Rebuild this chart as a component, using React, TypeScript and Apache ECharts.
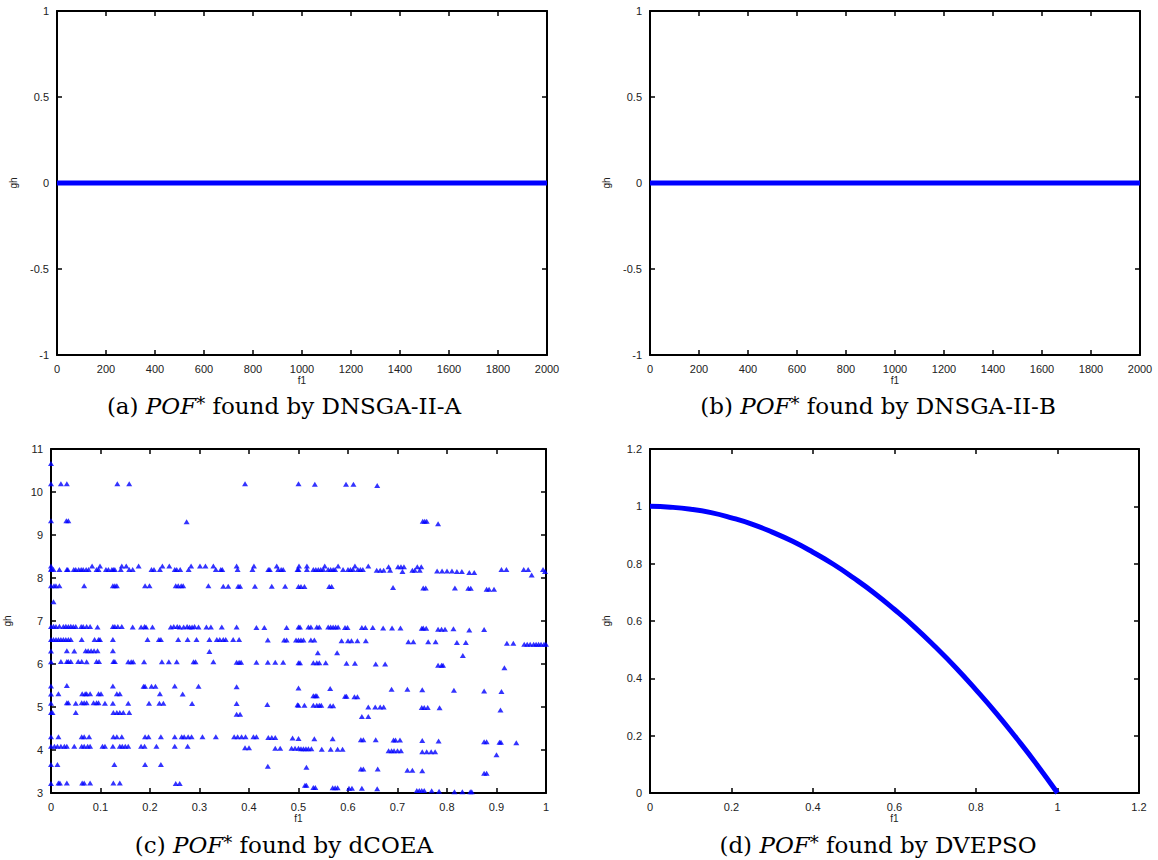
import React, { useEffect, useRef } from "react";
import * as echarts from "echarts";

// ---- Panel (a) and (b): DNSGA-II-A / DNSGA-II-B ----
const dnsgaAF1 = [0, 2000];
const dnsgaAGh = [0, 0];
const dnsgaBF1 = [0, 2000];
const dnsgaBGh = [0, 0];

// ---- Panel (d): DVEPSO ----
const dvepsoF1 = [0, 0.05, 0.1, 0.15, 0.2, 0.25, 0.3, 0.35, 0.4, 0.45, 0.5, 0.55, 0.6, 0.65, 0.7, 0.75, 0.8, 0.85, 0.9, 0.95, 1.0];
const dvepsoGh = [1.0, 0.997, 0.99, 0.978, 0.96, 0.938, 0.91, 0.878, 0.84, 0.798, 0.75, 0.698, 0.64, 0.578, 0.51, 0.438, 0.36, 0.278, 0.19, 0.098, 0.0];

// ---- Panel (c): dCOEA, [f1, gh] by band ----
const dcoeaTop = [[0,10.66],[0,10.19],[0.02,10.19],[0.032,10.19],[0.134,10.19],[0.158,10.19],[0.392,10.19],[0.5,10.19],[0.533,10.18],[0.596,10.18],[0.611,10.18],[0.659,10.15]];
const dcoea93 = [[0,9.33],[0.031,9.33],[0.035,9.33],[0.274,9.31],[0.751,9.32],[0.755,9.32],[0.759,9.32],[0.782,9.26]];
const dcoea82 = [[0,8.2],[0,8.28],[0.001,8.22],[0.005,8.2],[0.017,8.2],[0.032,8.2],[0.034,8.2],[0.046,8.2],[0.05,8.2],[0.056,8.2],[0.061,8.2],[0.065,8.2],[0.071,8.2],[0.076,8.2],[0.083,8.28],[0.092,8.2],[0.096,8.2],[0.099,8.28],[0.111,8.2],[0.116,8.2],[0.123,8.2],[0.126,8.2],[0.129,8.2],[0.141,8.2],[0.143,8.28],[0.152,8.28],[0.158,8.2],[0.165,8.2],[0.177,8.28],[0.203,8.2],[0.208,8.2],[0.22,8.2],[0.225,8.28],[0.239,8.28],[0.25,8.2],[0.254,8.2],[0.261,8.2],[0.278,8.2],[0.283,8.28],[0.301,8.28],[0.312,8.28],[0.328,8.28],[0.333,8.2],[0.343,8.2],[0.346,8.2],[0.375,8.28],[0.377,8.2],[0.407,8.2],[0.41,8.28],[0.439,8.2],[0.442,8.2],[0.456,8.28],[0.459,8.2],[0.465,8.2],[0.469,8.2],[0.498,8.2],[0.501,8.28],[0.5,8.2],[0.517,8.2],[0.517,8.28],[0.53,8.2],[0.535,8.2],[0.54,8.2],[0.545,8.2],[0.55,8.2],[0.553,8.28],[0.56,8.2],[0.565,8.2],[0.57,8.2],[0.574,8.2],[0.58,8.28],[0.59,8.2],[0.6,8.2],[0.605,8.2],[0.61,8.2],[0.614,8.28],[0.62,8.2],[0.625,8.2],[0.63,8.2],[0.641,8.28],[0.658,8.18],[0.665,8.18],[0.672,8.18],[0.682,8.26],[0.685,8.18],[0.701,8.26],[0.707,8.26],[0.713,8.26],[0.71,8.15],[0.73,8.18],[0.735,8.18],[0.74,8.26],[0.745,8.18],[0.748,8.26],[0.78,8.16],[0.79,8.16],[0.8,8.16],[0.81,8.16],[0.82,8.15],[0.83,8.15],[0.845,8.13],[0.855,8.13],[0.91,8.2],[0.92,8.2],[0.955,8.2],[0.964,8.2],[0.971,8.07],[0.994,8.2],[0.998,8.15]];
const dcoea78 = [[0,7.82],[0.006,7.82],[0.01,7.82],[0.017,7.82],[0.067,7.82],[0.125,7.82],[0.129,7.82],[0.133,7.82],[0.19,7.82],[0.199,7.82],[0.252,7.82],[0.257,7.82],[0.263,7.82],[0.267,7.82],[0.318,7.82],[0.348,7.81],[0.358,7.81],[0.378,7.81],[0.382,7.81],[0.412,7.81],[0.446,7.81],[0.473,7.81],[0.5,7.8],[0.505,7.8],[0.512,7.8],[0.562,7.8],[0.567,7.8],[0.691,7.78],[0.752,7.77],[0.757,7.77],[0.816,7.77],[0.843,7.76],[0.848,7.76],[0.88,7.74],[0.885,7.74],[0.895,7.74],[0.005,7.45]];
const dcoea687 = [[0,6.87],[0.005,6.88],[0.01,6.87],[0.017,6.88],[0.025,6.87],[0.03,6.88],[0.035,6.87],[0.04,6.88],[0.045,6.87],[0.05,6.87],[0.061,6.87],[0.065,6.87],[0.072,6.87],[0.079,6.87],[0.094,6.86],[0.125,6.87],[0.129,6.87],[0.135,6.87],[0.143,6.87],[0.165,6.86],[0.182,6.86],[0.189,6.87],[0.192,6.86],[0.205,6.86],[0.242,6.86],[0.248,6.87],[0.255,6.87],[0.26,6.86],[0.268,6.86],[0.275,6.87],[0.28,6.86],[0.285,6.86],[0.29,6.87],[0.298,6.86],[0.314,6.86],[0.323,6.86],[0.345,6.86],[0.375,6.86],[0.415,6.85],[0.431,6.85],[0.476,6.85],[0.5,6.86],[0.503,6.86],[0.52,6.86],[0.525,6.86],[0.537,6.86],[0.542,6.86],[0.56,6.86],[0.565,6.86],[0.57,6.86],[0.575,6.86],[0.58,6.86],[0.594,6.85],[0.599,6.85],[0.628,6.85],[0.635,6.85],[0.65,6.85],[0.671,6.84],[0.689,6.84],[0.706,6.84],[0.749,6.83],[0.752,6.84],[0.758,6.83],[0.782,6.81],[0.789,6.81],[0.796,6.81],[0.813,6.82],[0.845,6.79],[0.875,6.8]];
const dcoea657 = [[0,6.57],[0.005,6.57],[0.01,6.57],[0.015,6.57],[0.02,6.57],[0.025,6.57],[0.03,6.57],[0.035,6.57],[0.04,6.57],[0.062,6.57],[0.088,6.57],[0.096,6.57],[0.099,6.57],[0.125,6.57],[0.195,6.57],[0.218,6.57],[0.222,6.57],[0.257,6.57],[0.276,6.57],[0.294,6.57],[0.32,6.57],[0.335,6.57],[0.341,6.57],[0.348,6.57],[0.353,6.57],[0.368,6.57],[0.38,6.57],[0.438,6.56],[0.471,6.56],[0.476,6.56],[0.495,6.56],[0.5,6.56],[0.505,6.56],[0.51,6.56],[0.525,6.56],[0.532,6.56],[0.587,6.54],[0.6,6.54],[0.607,6.54],[0.619,6.54],[0.636,6.54],[0.722,6.52],[0.732,6.52],[0.762,6.52],[0.777,6.52],[0.82,6.5],[0.838,6.5],[0.921,6.48],[0.934,6.48],[0.956,6.46],[0.962,6.46],[0.968,6.46],[0.975,6.46],[0.98,6.46],[0.985,6.46],[0.99,6.46],[0.996,6.46],[1.0,6.46]];
const dcoea630 = [[0,6.3],[0.032,6.31],[0.047,6.3],[0.07,6.31],[0.075,6.31],[0.081,6.31],[0.087,6.31],[0.094,6.31],[0.125,6.31],[0.32,6.29],[0.539,6.26],[0.578,6.26],[0.832,6.2]];
const dcoea605 = [[0,6.05],[0.02,6.06],[0.032,6.06],[0.035,6.06],[0.04,6.06],[0.055,6.06],[0.062,6.06],[0.072,6.05],[0.092,6.06],[0.097,6.06],[0.126,6.06],[0.129,6.06],[0.156,6.05],[0.162,6.05],[0.166,6.05],[0.188,6.05],[0.224,6.05],[0.238,6.05],[0.254,6.05],[0.288,6.05],[0.292,6.05],[0.328,6.05],[0.375,6.04],[0.38,6.04],[0.384,6.04],[0.415,6.04],[0.438,6.04],[0.453,6.04],[0.469,6.04],[0.5,6.03],[0.503,6.03],[0.53,6.03],[0.537,6.03],[0.542,6.03],[0.555,6.03],[0.597,6.02],[0.614,6.02],[0.656,6.0],[0.675,6.0],[0.782,5.97],[0.789,5.97],[0.792,5.97],[0.916,5.91]];
const dcoea549 = [[0,5.49],[0.032,5.5],[0.125,5.49],[0.187,5.48],[0.19,5.48],[0.203,5.48],[0.211,5.48],[0.25,5.49],[0.298,5.48],[0.375,5.47],[0.5,5.44],[0.564,5.43],[0.688,5.41],[0.72,5.41],[0.75,5.4],[0.814,5.39],[0.875,5.37],[0.91,5.36]];
const dcoea530 = [[0,5.3],[0.015,5.31],[0.063,5.31],[0.069,5.31],[0.072,5.31],[0.079,5.31],[0.096,5.31],[0.101,5.31],[0.133,5.31],[0.139,5.31],[0.22,5.31],[0.266,5.3],[0.53,5.26],[0.534,5.26],[0.537,5.26],[0.594,5.25],[0.597,5.25],[0.613,5.24],[0.619,5.24]];
const dcoea509 = [[0,5.09],[0.032,5.1],[0.035,5.1],[0.05,5.09],[0.062,5.1],[0.067,5.1],[0.072,5.1],[0.086,5.1],[0.092,5.1],[0.096,5.1],[0.109,5.09],[0.125,5.09],[0.156,5.09],[0.198,5.09],[0.219,5.09],[0.227,5.09],[0.285,5.08],[0.375,5.08],[0.437,5.06],[0.498,5.05],[0.5,5.04],[0.512,5.04],[0.53,5.04],[0.537,5.04],[0.542,5.04],[0.546,5.04],[0.564,5.03],[0.57,5.03],[0.641,5.0],[0.655,5.0],[0.665,5.0],[0.672,5.0],[0.749,4.99],[0.754,4.99],[0.761,4.99],[0.785,4.98],[0.908,4.93]];
const dcoea487 = [[0,4.87],[0.003,4.87],[0.05,4.87],[0.126,4.87],[0.133,4.87],[0.139,4.87],[0.146,4.87],[0.158,4.87],[0.375,4.83],[0.382,4.83],[0.628,4.78],[0.641,4.78]];
const dcoea431 = [[0,4.31],[0.015,4.31],[0.062,4.31],[0.067,4.31],[0.077,4.31],[0.126,4.31],[0.133,4.31],[0.143,4.31],[0.19,4.31],[0.197,4.31],[0.222,4.31],[0.25,4.31],[0.264,4.31],[0.269,4.31],[0.277,4.31],[0.284,4.31],[0.306,4.31],[0.333,4.31],[0.37,4.31],[0.377,4.31],[0.385,4.31],[0.393,4.31],[0.409,4.31],[0.415,4.31],[0.439,4.29],[0.446,4.29],[0.453,4.29],[0.488,4.28],[0.5,4.27],[0.532,4.26],[0.569,4.26],[0.626,4.24],[0.631,4.24],[0.656,4.24],[0.692,4.23],[0.696,4.23],[0.705,4.23],[0.75,4.22],[0.783,4.21],[0.875,4.19],[0.88,4.19],[0.906,4.18],[0.909,4.18],[0.94,4.17]];
const dcoea409 = [[0,4.09],[0.007,4.09],[0.013,4.09],[0.02,4.09],[0.027,4.09],[0.032,4.09],[0.047,4.09],[0.062,4.09],[0.067,4.09],[0.074,4.09],[0.079,4.09],[0.104,4.09],[0.109,4.09],[0.125,4.09],[0.139,4.09],[0.144,4.09],[0.15,4.09],[0.156,4.09],[0.182,4.09],[0.189,4.09],[0.213,4.09],[0.25,4.09],[0.276,4.09],[0.392,4.05],[0.4,4.05],[0.453,4.04],[0.463,4.04],[0.486,4.04],[0.493,4.04],[0.5,4.04],[0.505,4.03],[0.51,4.03],[0.515,4.03],[0.52,4.03],[0.526,4.03],[0.547,4.02],[0.565,4.02],[0.579,4.02],[0.589,4.02],[0.682,3.98],[0.688,3.98],[0.693,3.98],[0.7,3.98],[0.707,3.98],[0.75,3.96],[0.759,3.96],[0.768,3.96],[0.776,3.96],[0.9,3.89]];
const dcoea366 = [[0,3.66],[0.013,3.66],[0.128,3.66],[0.19,3.66],[0.222,3.66],[0.438,3.62],[0.516,3.6],[0.626,3.56],[0.631,3.56],[0.66,3.56],[0.72,3.53],[0.73,3.53],[0.75,3.52],[0.875,3.46],[0.88,3.46]];
const dcoea322 = [[0,3.22],[0.015,3.23],[0.018,3.23],[0.032,3.23],[0.063,3.23],[0.067,3.23],[0.079,3.23],[0.126,3.23],[0.139,3.23],[0.252,3.22],[0.26,3.22],[0.513,3.18],[0.516,3.18],[0.53,3.13],[0.534,3.13],[0.569,3.12],[0.574,3.12],[0.579,3.12],[0.602,3.11],[0.608,3.11],[0.628,3.11],[0.659,3.1],[0.739,3.06],[0.744,3.06],[0.749,3.06],[0.754,3.06],[0.769,3.05],[0.784,3.04],[0.815,3.03],[0.831,3.03],[0.847,3.03],[0.85,3.03]];

const captions = [
  { label: "(a) ", algo: "DNSGA-II-A" },
  { label: "(b) ", algo: "DNSGA-II-B" },
  { label: "(c) ", algo: "dCOEA" },
  { label: "(d) ", algo: "DVEPSO" },
];

const BLUE = "#0000ff";
const TICK_FONT = "Liberation Sans";

function axis(gridIndex: number, min: number, max: number, interval: number, position: string, labels: boolean, name?: string, isY?: boolean) {
  const a: any = {
    type: "value",
    gridIndex,
    min,
    max,
    interval,
    position,
    axisLine: { show: true, onZero: false, lineStyle: { color: "#000", width: 2 } },
    axisTick: { show: true, inside: true, length: 5, lineStyle: { color: "#000", width: 1.5 } },
    axisLabel: {
      show: labels,
      color: "#222",
      fontFamily: TICK_FONT,
      fontSize: 11,
      margin: 8,
      formatter: (v: number) => String(+Number(v).toFixed(4)),
    },
    splitLine: { show: false },
  };
  if (name) {
    a.name = name;
    a.nameLocation = "middle";
    a.nameGap = isY ? 39 : 20;
    a.nameTextStyle = { color: "#222", fontFamily: TICK_FONT, fontSize: 10 };
  }
  return a;
}

export default function App() {
  const ref = useRef<HTMLDivElement>(null);
  useEffect(() => {
    if (!ref.current) return;
    const chart = echarts.init(ref.current, null, { renderer: "svg" });

    const grids = [
      { left: 57, top: 11, width: 490, height: 344 },
      { left: 650, top: 11, width: 490, height: 344 },
      { left: 51, top: 449, width: 495, height: 344 },
      { left: 650, top: 449, width: 489, height: 344 },
    ];
    const ranges = [
      { x: [0, 2000, 200], y: [-1, 1, 0.5] },
      { x: [0, 2000, 200], y: [-1, 1, 0.5] },
      { x: [0, 1, 0.1], y: [3, 11, 1] },
      { x: [0, 1.2, 0.2], y: [0, 1.2, 0.2] },
    ];
    const xAxes: any[] = [];
    const yAxes: any[] = [];
    ranges.forEach((r, i) => {
      xAxes.push(axis(i, r.x[0], r.x[1], r.x[2], "bottom", true, "f1", false));
      xAxes.push(axis(i, r.x[0], r.x[1], r.x[2], "top", false));
      yAxes.push(axis(i, r.y[0], r.y[1], r.y[2], "left", true, "gh", true));
      yAxes.push(axis(i, r.y[0], r.y[1], r.y[2], "right", false));
    });

    const lineSeries = (xi: number, xs: number[], ys: number[], smooth: boolean) => ({
      type: "line",
      xAxisIndex: xi,
      yAxisIndex: xi,
      data: xs.map((x, k) => [x, ys[k]]),
      symbol: "none",
      smooth,
      clip: false,
      lineStyle: { color: BLUE, width: 5 },
    });

    const dcoeaAll = [
      ...dcoeaTop, ...dcoea93, ...dcoea82, ...dcoea78, ...dcoea687, ...dcoea657, ...dcoea630,
      ...dcoea605, ...dcoea549, ...dcoea530, ...dcoea509, ...dcoea487, ...dcoea431, ...dcoea409,
      ...dcoea366, ...dcoea322,
    ];

    const capPos = [
      { x: 284, y: 406 },
      { x: 878, y: 406 },
      { x: 284, y: 845 },
      { x: 878, y: 845 },
    ];
    const serif = "DejaVu Serif";
    const fs = 23;
    const graphic = captions.map((c, i) => ({
      type: "text",
      x: capPos[i].x,
      y: capPos[i].y,
      style: {
        text: `{n|${c.label}}{i|POF}{s|*}{n| found by ${c.algo}}`,
        align: "center",
        verticalAlign: "middle",
        rich: {
          n: { fontFamily: serif, fontSize: fs, fill: "#000" },
          i: { fontFamily: serif, fontSize: fs, fontStyle: "italic", fill: "#000" },
          s: { fontFamily: serif, fontSize: 18, fill: "#000", verticalAlign: "top" },
        },
      },
    }));

    chart.setOption({
      animation: false,
      backgroundColor: "#fff",
      grid: grids,
      xAxis: xAxes,
      yAxis: yAxes,
      graphic,
      series: [
        lineSeries(0, dnsgaAF1, dnsgaAGh, false),
        lineSeries(2, dnsgaBF1, dnsgaBGh, false),
        {
          type: "scatter",
          xAxisIndex: 4,
          yAxisIndex: 4,
          data: dcoeaAll,
          symbol: "triangle",
          symbolSize: [6, 5],
          clip: false,
          itemStyle: { color: BLUE },
        },
        lineSeries(6, dvepsoF1, dvepsoGh, true),
      ],
    });
    return () => chart.dispose();
  }, []);
  return <div ref={ref} style={{ position: "absolute", left: 0, top: 0, width: 1158, height: 860 }} />;
}
